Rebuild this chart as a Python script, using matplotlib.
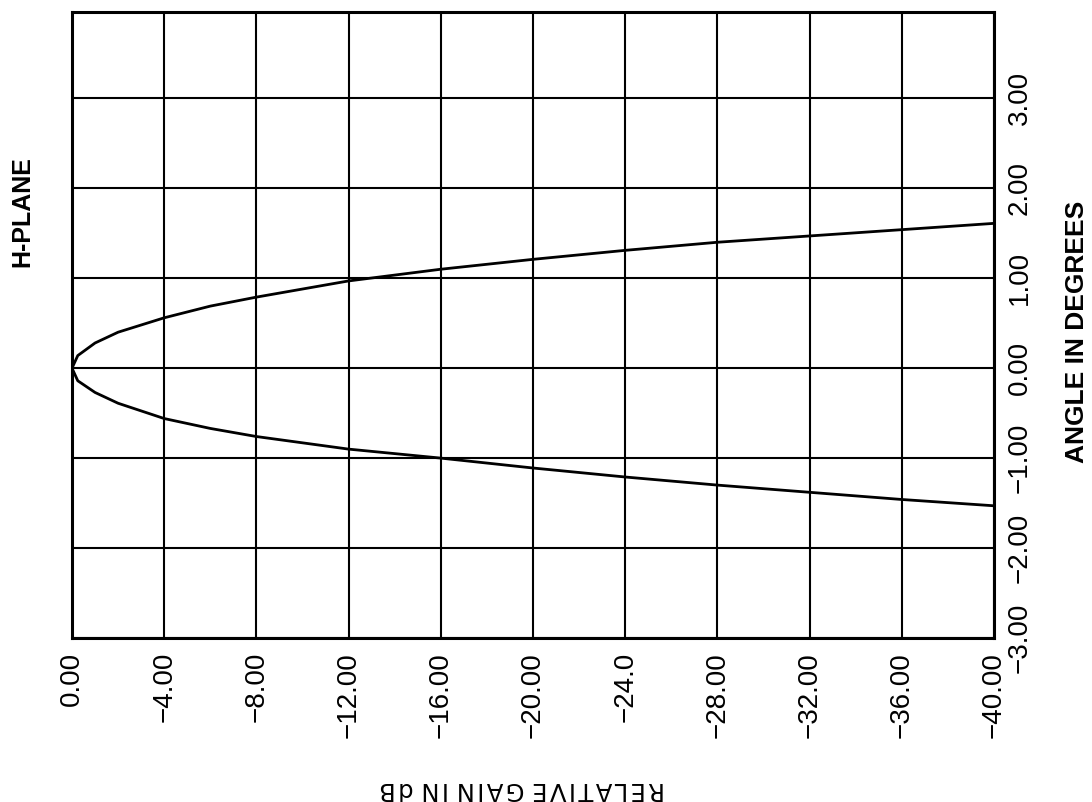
import matplotlib
matplotlib.use("Agg")
import matplotlib.pyplot as plt

# Relative gain axis (horizontal) and its labels
gain_ticks = [0, -4, -8, -12, -16, -20, -24, -28, -32, -36, -40]
gain_tick_labels = ["0.00", "−4.00", "−8.00", "−12.00", "−16.00", "−20.00",
                    "−24.0", "−28.00", "−32.00", "−36.00", "−40.00"]

# Angle axis (vertical, labelled on the right)
angle_ticks = [3, 2, 1, 0, -1, -2, -3]
angle_tick_labels = ["3.00", "2.00", "1.00", "0.00", "−1.00", "−2.00", "−3.00"]

# H-plane pattern: angle (deg) at which each relative gain (dB) is reached
gain_db = [0, -0.25, -1, -2, -4, -6, -8, -12, -16, -20, -24, -28, -32, -36, -40]
angle_upper = [0, 0.14, 0.28, 0.40, 0.56, 0.69, 0.79, 0.97, 1.10, 1.21, 1.31, 1.40, 1.47, 1.54, 1.61]
angle_lower = [0, -0.14, -0.27, -0.39, -0.56, -0.67, -0.76, -0.90, -1.00, -1.11, -1.21, -1.30, -1.38, -1.46, -1.53]

TICK_FONT = ["Liberation Sans", "DejaVu Sans"]
LABEL_FONT = ["Liberation Sans", "DejaVu Sans"]


def spaced(text):
    """Letter-spaced caption: hair spaces between letters, plain spaces between words."""
    return " ".join("\u200a".join(word) for word in text.split(" "))


fig = plt.figure(figsize=(10.92, 8.02), dpi=100)
fig.patch.set_facecolor("white")
ax = fig.add_axes([72 / 1092, 1 - 638 / 802, (994 - 72) / 1092, (638 - 12) / 802])

ax.plot(gain_db, angle_upper, color="black", lw=2.0, solid_capstyle="round")
ax.plot(gain_db, angle_lower, color="black", lw=2.0, solid_capstyle="round")

ax.set_xlim(0, -40)
ax.set_ylim(-3, 3.96)

ax.set_xticks(gain_ticks)
ax.set_xticklabels(gain_tick_labels, rotation=90, family=TICK_FONT, fontsize=20)
ax.yaxis.tick_right()
ax.set_yticks(angle_ticks)
ax.set_yticklabels(angle_tick_labels, rotation=90, va="center", family=TICK_FONT, fontsize=20)
ax.tick_params(axis="x", length=0, pad=10)
ax.tick_params(axis="y", length=0, pad=9)

ax.grid(True, color="black", lw=1.5)
ax.set_axisbelow(True)
for side in ax.spines.values():
    side.set_linewidth(2.2)
    side.set_color("black")

fig.text(22 / 1092, 1 - 212 / 802, "H-PLANE", rotation=90, ha="center", va="center",
         family=LABEL_FONT, fontweight="bold", fontsize=18)
fig.text(1077 / 1092, 1 - 332 / 802, "ANGLE IN DEGREES", rotation=90, ha="center", va="center",
         family=LABEL_FONT, fontweight="bold", fontsize=19)
fig.text(522 / 1092, 1 - 789 / 802, spaced("RELATIVE GAIN IN dB"),
         rotation=180, ha="center", va="center", family=["DejaVu Sans"], fontsize=17.5)

fig.savefig("out.png", dpi=100, facecolor="white")
